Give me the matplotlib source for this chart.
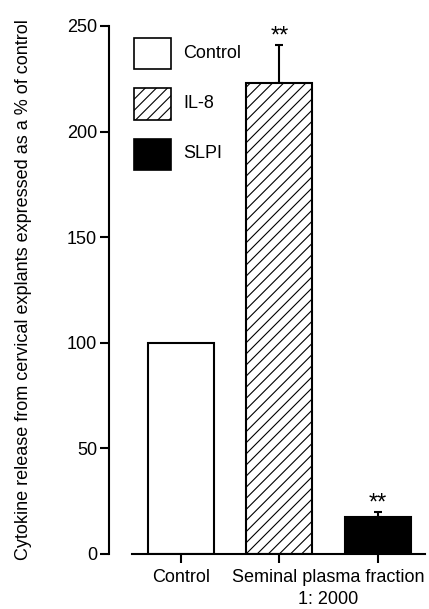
import matplotlib
matplotlib.use('Agg')
import matplotlib.pyplot as plt
from matplotlib.patches import Rectangle

groups = ['Control', 'IL-8', 'SLPI']
values = [100, 223, 17.7]
errors = [0, 18, 2.3]
stars = ['', '**', '**']
x_labels = ['Control', 'Seminal plasma fraction', '1: 2000']
y_ticks = [0, 50, 100, 150, 200, 250]

plt.rcParams['font.family'] = ['Liberation Sans', 'DejaVu Sans']
plt.rcParams['hatch.linewidth'] = 0.8

fig = plt.figure(figsize=(4.29, 6.09), dpi=100)
W, H = 429, 609
ax = fig.add_axes([109/W, 1 - 554/H, (425 - 109)/W, (554 - 26)/H])

pos = list(range(len(groups)))
faces = ['white', 'white', 'black']
hatches = [None, '///', None]
for p, v, fc, h in zip(pos, values, faces, hatches):
    ax.bar(p, v, width=0.67, color=fc, edgecolor='black', linewidth=1.5,
           hatch=h, zorder=2)

for p, v, e, s in zip(pos, values, errors, stars):
    if e > 0:
        ax.errorbar(p, v, yerr=[[0], [e]], fmt='none', ecolor='black',
                    elinewidth=1.5, capsize=3, capthick=1.5, zorder=1)
    if s:
        ax.annotate(s, (p, v + e), xytext=(0, -2), textcoords='offset points',
                    ha='center', va='bottom', fontsize=17)

ax.set_xlim(-0.73, 2.48)
ax.set_ylim(0, 250)
ax.set_yticks(y_ticks)
ax.set_xticks(pos)
ax.set_xticklabels([])
ax.tick_params(axis='both', direction='out', length=6.5, width=1.5,
               labelsize=13, pad=2)

for side in ['top', 'right']:
    ax.spines[side].set_visible(False)
ax.spines['left'].set_linewidth(1.5)
ax.spines['bottom'].set_linewidth(1.5)
ax.spines['bottom'].set_bounds(-0.5, 2.48)

# category labels under the axis; the last two share the SP fraction bars
xt = ax.get_xaxis_transform()
ax.text(0, -23/528, x_labels[0], transform=xt, ha='center', va='center', fontsize=13)
ax.text(1.5, -23/528, x_labels[1], transform=xt, ha='center', va='center', fontsize=13)
ax.text(1.5, -46/528, x_labels[2], transform=xt, ha='center', va='center', fontsize=13)

ax.set_ylabel('Cytokine release from cervical explants expressed as a % of control',
              fontsize=13, labelpad=25)

# key drawn by hand in figure pixels
for i, (lab, fc, h) in enumerate(zip(groups, faces, hatches)):
    top = 38 + 50.5 * i
    fig.add_artist(Rectangle((134/W, 1 - (top + 31)/H), 37/W, 31/H,
                             facecolor=fc, edgecolor='black', linewidth=1.2,
                             hatch=h, transform=fig.transFigure))
    fig.text(183/W, 1 - (top + 15)/H, lab, ha='left', va='center', fontsize=13)

fig.savefig('out.png', dpi=100)
